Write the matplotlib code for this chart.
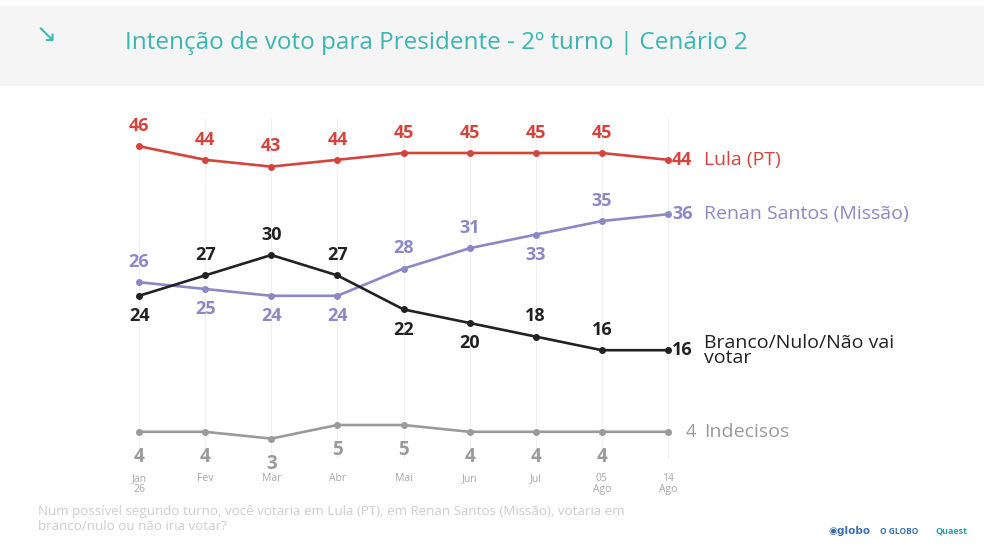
import numpy as np
import matplotlib.pyplot as plt
from matplotlib.patches import Rectangle

plt.rcParams['font.family'] = ['Open Sans', 'DejaVu Sans']

meses = ['Jan\n26', 'Fev', 'Mar', 'Abr', 'Mai', 'Jun', 'Jul', '05\nAgo', '14\nAgo']
lula = [46, 44, 43, 44, 45, 45, 45, 45, 44]
renan = [26, 25, 24, 24, 28, 31, 33, 35, 36]
branco = [24, 27, 30, 27, 22, 20, 18, 16, 16]
indecisos = [4, 4, 3, 5, 5, 4, 4, 4, 4]

# label above (+1) or below (-1) each point, last point gets side label
pos_lula = [1, 1, 1, 1, 1, 1, 1, 1]
pos_renan = [1, -1, -1, -1, 1, 1, -1, 1]
pos_branco = [-1, 1, 1, 1, -1, -1, 1, 1]
pos_indec = [-1, -1, -1, -1, -1, -1, -1, -1]

c_lula = '#d4443d'
c_renan = '#8c88c6'
c_branco = '#222222'
c_indec = '#9a9a9a'

fig = plt.figure(figsize=(9.84, 5.56), dpi=100)
fig.patches.append(Rectangle((0, 1 - 86 / 556), 1, 80 / 556, transform=fig.transFigure,
                             facecolor='#f5f5f5', edgecolor='none', zorder=0))
fig.text(35 / 984, 1 - 36 / 556, '↘', color='#39b8b4', fontsize=18, va='center',
         family='DejaVu Sans')
fig.text(125 / 984, 1 - 43 / 556, 'Intenção de voto para Presidente - 2º turno | Cenário 2',
         color='#3ab6b2', fontsize=17.5, va='center')

ax = fig.add_axes([106 / 984, 1 - 459 / 556, 595 / 984, 340 / 556])
x = np.arange(len(meses))
ax.set_xlim(-0.5, 8.5)
ax.set_ylim(0, 50)
for s in ax.spines.values():
    s.set_visible(False)
ax.set_yticks([])
ax.set_xticks([])
for xi in x:
    ax.axvline(xi, color='#f0f0f0', lw=0.8, zorder=0)

series = [
    (lula, c_lula, pos_lula, 'Lula (PT)'),
    (renan, c_renan, pos_renan, 'Renan Santos (Missão)'),
    (branco, c_branco, pos_branco, 'Branco/Nulo/Não vai\nvotar'),
    (indecisos, c_indec, pos_indec, 'Indecisos'),
]

for vals, col, pos, nome in series:
    ax.plot(x, vals, color=col, lw=1.9, marker='o', ms=4, clip_on=False, zorder=3)
    for xi, v, p in zip(x[:-1], vals[:-1], pos):
        if col == c_indec:
            ax.annotate(str(v), (xi, v), xytext=(0, -18), textcoords='offset points',
                        ha='center', va='center', color=col, fontsize=13.5,
                        fontweight='bold', annotation_clip=False)
        else:
            ax.annotate(str(v), (xi, v), xytext=(0, 14.5 * p), textcoords='offset points',
                        ha='center', va='center', color=col, fontsize=13,
                        fontweight='bold', annotation_clip=False)
    if col == c_indec:
        ax.annotate(str(vals[-1]), (x[-1], vals[-1]), xytext=(13, 0),
                    textcoords='offset points', ha='left', va='center', color=col,
                    fontsize=13, annotation_clip=False)
    else:
        ax.annotate(str(vals[-1]), (x[-1], vals[-1]), xytext=(3, 0),
                    textcoords='offset points', ha='left', va='center', color=col,
                    fontsize=13, fontweight='bold', annotation_clip=False)
    ax.annotate(nome, (x[-1], vals[-1]), xytext=(26, 0), textcoords='offset points',
                ha='left', va='center', color=col, fontsize=14, linespacing=0.8,
                annotation_clip=False)

for xi, m in zip(x, meses):
    ax.annotate(m, (xi, 0), xytext=(0, -10), textcoords='offset points', ha='center',
                va='top', color='#a8a8a8', fontsize=7.5, linespacing=1.05,
                annotation_clip=False)

fig.text(38 / 984, 1 - 519 / 556,
         'Num possível segundo turno, você votaria em Lula (PT), em Renan Santos (Missão), votaria em\n'
         'branco/nulo ou não iria votar?',
         color='#cdcdcd', fontsize=9.6, va='center', linespacing=1.25)
fig.text(828 / 984, 1 - 531 / 556, '◉globo', color='#3d6fb0', fontsize=7.5,
         fontweight='bold', va='center', family='DejaVu Sans')
fig.text(880 / 984, 1 - 531 / 556, 'O GLOBO', color='#3d6fb0', fontsize=6,
         fontweight='bold', va='center')
fig.text(935 / 984, 1 - 531 / 556, 'Quaest', color='#2aa3a0', fontsize=6.5,
         fontweight='bold', va='center')

fig.savefig('out.png', dpi=100, facecolor='white')
